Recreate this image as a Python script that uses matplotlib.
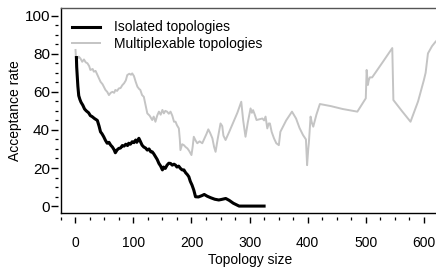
import numpy as np
import matplotlib
matplotlib.use('Agg')
import matplotlib.pyplot as plt
from matplotlib.ticker import MultipleLocator

plt.rcParams['font.family'] = ['Liberation Sans', 'DejaVu Sans']
plt.rcParams['font.size'] = 10

# --- datos ---
iso_x = [2, 2.5, 3.5, 4.5, 6, 8, 10, 13, 16, 19, 23, 26, 29, 33, 38, 41, 43.5, 46, 49, 52,
         55, 58, 61, 64, 67, 69, 72, 75, 78, 81, 84, 87, 90, 92, 95, 98, 101, 104, 106, 109.5,
         112, 115, 118, 121, 124, 127, 130, 132.5, 135, 138, 141, 144, 147, 150, 152, 155, 158,
         161, 164, 167, 170, 172.6, 175, 178, 181, 184, 187, 190, 193, 195.5, 198, 201, 204, 207,
         212, 218, 222, 227, 233, 240, 247, 252, 259, 265, 272, 282, 300, 325]
iso_y = [78, 73, 68, 63, 58, 56, 54.5, 53, 51, 50, 49, 47.5, 47, 46, 45, 42, 39, 38, 36.4, 34.5,
         33, 33.5, 32, 31, 29.5, 28, 29.5, 30.3, 30.5, 31.8, 31.5, 32.5, 31.8, 33, 32.5, 33.8, 33.3, 34.7, 33.5, 35.6,
         34, 32, 31, 30.5, 29.4, 30, 28.5, 28.5, 27.5, 26, 24.5, 22.4, 21, 19, 20.5, 19.8, 21.5,
         22.5, 22.4, 21.5, 22, 21.5, 20.5, 21, 19.8, 19, 19, 17.5, 16.5, 15.4, 13, 11, 8.4, 4.9,
         4.8, 5.5, 6.1, 5.2, 4.4, 3.6, 3.2, 3.5, 4.0, 3, 1.5, 0, 0, 0]

mux_x = [0.5, 1.5, 6, 9, 12, 15, 18, 21, 24, 26, 30, 32, 35, 38, 41, 43.5, 47, 52, 55, 58,
         61, 64, 67, 69, 72, 75, 78, 81, 84, 87, 89.5, 93, 96, 98, 101, 104, 107, 110, 112, 115,
         118, 121, 124, 128, 132.5, 135, 138, 141, 144, 147, 150, 152.5, 155, 158, 161, 164, 167, 170, 172.6, 175,
         178.3, 180, 181, 184, 187, 190, 193, 196, 200, 202, 204, 207, 210, 214, 218.6, 223, 226, 229, 232, 236,
         239, 241.5, 245, 248, 250, 253, 255, 258.7, 265, 272, 279, 285.7, 289, 293, 297, 301.7, 304, 306, 309, 312,
         316, 322, 325, 327.5, 330.5, 333, 335, 338, 342, 346, 350.4, 353, 358, 363, 369, 373, 380, 386, 392, 397,
         399, 401, 402, 405, 407, 409.6, 415, 421, 440, 460, 485.5, 500, 501.5, 503.6, 505, 507, 511, 530, 545.6, 547.5,
         562, 577, 590, 600, 603, 607, 614, 620, 626]
mux_y = [82, 76.5, 78.5, 77.5, 75.8, 77, 75.5, 75, 73.5, 71.5, 72, 70.6, 71, 69, 67, 65.3, 64, 61, 60, 58.3,
         59.5, 60, 59.5, 61, 60.5, 61.8, 62, 63.5, 64.5, 66, 68.8, 69.5, 69, 69.7, 68.3, 65.3, 62.7, 61.5, 61, 58.3,
         57.4, 53, 48.7, 47.5, 45.2, 47, 44.3, 47.5, 49.6, 48, 50.5, 48.7, 50, 49.6, 48.5, 49.6, 47.5, 44.3, 44.3, 42.5,
         40.8, 35, 29.4, 32.5, 32, 31, 30.3, 29, 26.8, 31, 36.4, 34.5, 33, 34, 33, 36, 38, 40.3, 38.5, 35.6,
         31, 28.5, 35, 40, 43.4, 42, 37, 34.7, 39, 44, 49, 54.8, 45, 36.4, 44, 51.3, 49, 50.4, 48, 45.2,
         45.5, 46, 45, 47, 40.8, 43.4, 43.4, 39, 35.6, 33, 32, 39, 42, 45, 47.8, 49.6, 46, 41, 37.3, 35,
         21.5, 30, 33, 47, 44, 41.7, 48, 53.6, 52.5, 51, 49.6, 56.6, 71.5, 63.6, 66, 67.6, 67.6, 76, 83, 55.7,
         50, 44.3, 55, 66.2, 70, 80.2, 84, 86.3, 88]

fig = plt.figure(figsize=(4.36, 2.69), dpi=100)
ax = fig.add_axes([0.139, 0.207, 0.87, 0.763])

ax.plot(iso_x, iso_y, color='black', lw=2.2, label='Isolated topologies', zorder=3)
ax.plot(mux_x, mux_y, color='#c4c4c4', lw=1.4, label='Multiplexable topologies', zorder=2)

ax.set_xlim(-25.2, 627.6)
ax.set_ylim(-3.8, 104)

# marco tipo R: líneas del marco y ejes con ticks separados
for s in ['right', 'top']:
    ax.spines[s].set_visible(False)
ax.spines['left'].set_position(('outward', 1.7))
ax.spines['bottom'].set_position(('outward', 2.9))
ax.spines['left'].set_color('none')
ax.spines['bottom'].set_color('none')
ax.plot([0, 0], [0, 1], transform=ax.transAxes, color='black', lw=1.0, clip_on=False)
ax.plot([0, 1], [0, 0], transform=ax.transAxes, color='black', lw=1.0, clip_on=False)
ax.plot([0, 1], [1, 1], transform=ax.transAxes, color='#555555', lw=1.0, clip_on=False)

ax.xaxis.set_major_locator(MultipleLocator(100))
ax.xaxis.set_minor_locator(MultipleLocator(25))
ax.yaxis.set_major_locator(MultipleLocator(20))
ax.yaxis.set_minor_locator(MultipleLocator(5))
ax.tick_params(axis='x', which='major', length=4.5, width=1.0, pad=9, labelsize=10)
ax.tick_params(axis='x', which='minor', length=2.2, width=0.9)
ax.tick_params(axis='y', which='major', length=4.8, width=1.0, pad=1.2, labelsize=11)
ax.tick_params(axis='y', which='minor', length=2.4, width=0.9)

ax.set_xlabel('Topology size', fontsize=10, labelpad=2)
ax.set_ylabel('Acceptance rate', fontsize=10, labelpad=2)

ax.legend(frameon=False, loc='upper left', bbox_to_anchor=(0.030, 0.94), borderaxespad=0,
          borderpad=0, handlelength=2.0, handletextpad=1.0, labelspacing=0.2, fontsize=10)

fig.savefig('out.png', dpi=100)
